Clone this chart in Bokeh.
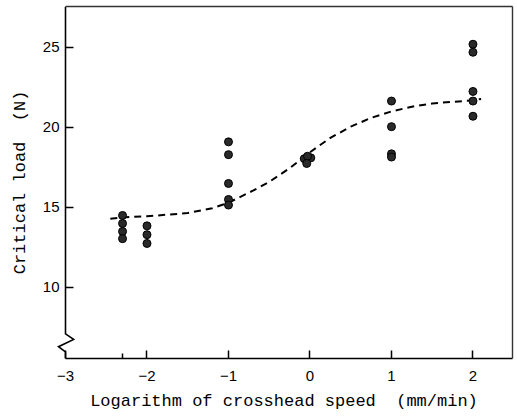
from bokeh.plotting import figure
from bokeh.models import Range1d, FixedTicker, LinearAxis
from bokeh.embed import file_html
from bokeh.resources import INLINE

# ---- data ----
log_speed = [-2.3, -2.3, -2.3, -2.3,
             -2.0, -2.0, -2.0,
             -1.0, -1.0, -1.0, -1.0, -1.0,
             -0.07, 0.01, -0.03, -0.04,
             1.0, 1.0, 1.0, 1.0,
             2.0, 2.0, 2.0, 2.0, 2.0]
critical_load = [14.5, 14.0, 13.5, 13.05,
                 13.85, 13.3, 12.75,
                 19.1, 18.3, 16.5, 15.5, 15.15,
                 18.05, 18.1, 18.2, 17.75,
                 21.65, 20.05, 18.35, 18.15,
                 25.2, 24.7, 22.25, 21.65, 20.7]

fit_x = [-2.45, -2.3, -2.0, -1.5, -1.2, -1.0, -0.7, -0.5, -0.25, 0.0,
         0.25, 0.5, 0.75, 1.0, 1.25, 1.5, 1.75, 2.0, 2.1]
fit_y = [14.3, 14.38, 14.45, 14.65, 14.95, 15.3, 16.05, 16.6, 17.45, 18.45,
         19.35, 20.05, 20.6, 21.0, 21.3, 21.5, 21.6, 21.7, 21.78]

x_ticks = [-3, -2, -1, 0, 1, 2]
x_minor_ticks = [-2.3]
y_ticks = [10, 15, 20, 25]

# visible box of the chart
x_lo, x_hi = -3.0, 2.485
y_lo, y_hi = 5.56, 27.56

# axis-break zigzag on the left side
break_x = [-3.0, -2.90, -3.086, -3.0]
break_y = [7.1, 6.75, 6.3, 5.97]

px_per_x = 81.5          # pixels per x unit
pad_left = 10 / px_per_x  # room left of the box so the zigzag is not clipped
tick_len = 8 / px_per_x

p = figure(width=517, height=417, output_backend="svg", toolbar_location=None,
           x_range=Range1d(x_lo - pad_left, x_hi), y_range=Range1d(y_lo, y_hi),
           min_border_left=55, min_border_right=5, min_border_top=6,
           min_border_bottom=59)
p.background_fill_color = "white"
p.border_fill_color = "white"
p.outline_line_color = None
p.xgrid.visible = False
p.ygrid.visible = False

tick_font = "Liberation Sans"
title_font = "Liberation Mono"

p.xaxis.ticker = FixedTicker(ticks=x_ticks, minor_ticks=x_minor_ticks)
p.yaxis.ticker = FixedTicker(ticks=y_ticks, minor_ticks=[])
p.xaxis.bounds = (x_lo - 1e-6, x_hi)
for ax in (p.xaxis[0], p.yaxis[0]):
    ax.axis_line_color = "black"
    ax.axis_line_width = 1.6
    ax.major_tick_in = 8
    ax.major_tick_out = 0
    ax.minor_tick_in = 5
    ax.minor_tick_out = 0
    ax.major_tick_line_color = "black"
    ax.major_tick_line_width = 1.5
    ax.minor_tick_line_color = "black"
    ax.minor_tick_line_width = 1.5
    ax.major_label_text_font = tick_font
    ax.major_label_text_font_size = "15px"
    ax.major_label_text_color = "black"
    ax.axis_label_text_font = title_font
    ax.axis_label_text_font_size = "17px"
    ax.axis_label_text_font_style = "normal"
    ax.axis_label_text_color = "black"

# the y axis sits 10 px left of the box: its line/ticks are drawn as glyphs
p.yaxis.axis_line_color = None
p.yaxis.major_tick_in = 0
p.yaxis.major_label_standoff = -4
p.yaxis.axis_label_standoff = 10
p.xaxis.major_label_standoff = 12
p.xaxis.axis_label_standoff = 8
p.xaxis.axis_label = "Logarithm of crosshead speed\u00a0\u00a0(mm/min)"
p.yaxis.axis_label = "Critical load\u00a0\u00a0(N)"

# top and right frame lines as bare axes
for side in ("above", "right"):
    a = LinearAxis(ticker=FixedTicker(ticks=[]), major_tick_in=0, major_tick_out=0,
                   minor_tick_in=0, minor_tick_out=0, major_label_standoff=0,
                   major_label_text_font_size="0px", axis_line_color="#333333",
                   axis_line_width=1.4)
    if side == "above":
        a.bounds = (x_lo, x_hi)
    p.add_layout(a, side)

# left frame line with the axis break zigzag
p.line([x_lo] + break_x + [x_lo], [y_hi] + break_y + [y_lo],
       line_color="black", line_width=1.6, line_join="miter")
# y ticks pointing into the box
p.segment(x0=[x_lo] * len(y_ticks), y0=y_ticks,
          x1=[x_lo + tick_len] * len(y_ticks), y1=y_ticks,
          line_color="black", line_width=1.5)

p.line(fit_x, fit_y, line_color="black", line_width=2, line_dash="7 5")
p.scatter(log_speed, critical_load, size=8, marker="circle",
          fill_color="#2a2a2a", line_color="black", line_width=1)

open("out.html", "w").write(file_html(p, INLINE))
